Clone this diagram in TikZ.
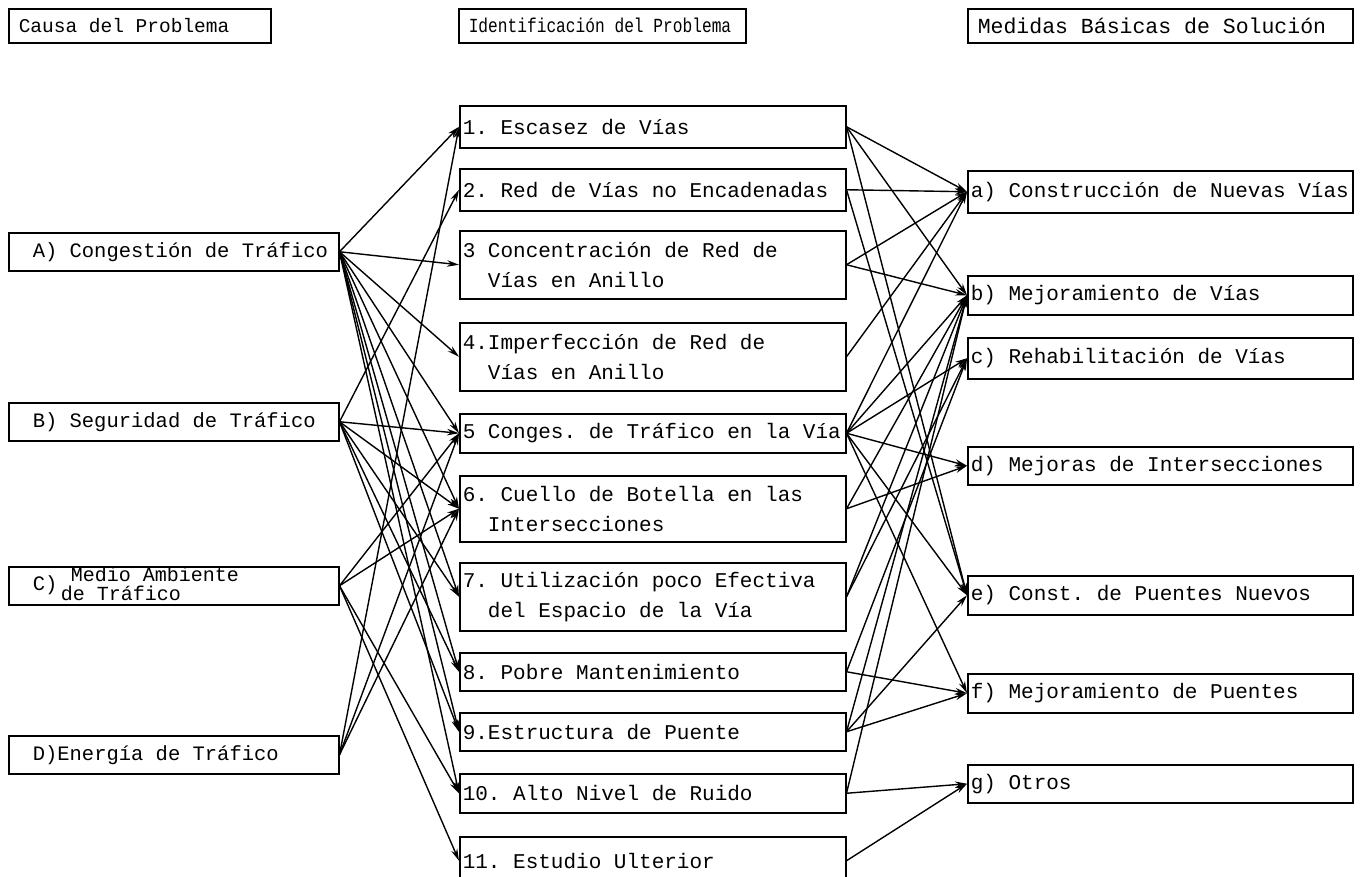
\documentclass[tikz,border=0pt]{standalone}
\usepackage{fontspec}
\setmonofont{Liberation Mono}
\usepackage{tikz}
\usetikzlibrary{arrows.meta}

% typewriter text with full-width spaces
\newcommand{\twfont}[2]{\ttfamily\fontsize{#1}{#2}\selectfont\spaceskip=0.6em\relax}

\tikzset{
  basebox/.style={draw, line width=1.5pt, anchor=north west, align=flush left,
    inner xsep=3pt, inner ysep=0pt, font=\twfont{21}{30}},
  causebox/.style={basebox, text width=324pt, minimum height=38pt,
    font=\twfont{20.5}{30}},
  probbox/.style={basebox, text width=380pt},
  solbox/.style={basebox, text width=379pt},
  headbox/.style={basebox, minimum height=34pt, inner xsep=10pt},
  arr/.style={-{Stealth[length=12pt,width=6.5pt]}, line width=1.4pt},
}

\begin{document}
\begin{tikzpicture}[x=1pt, y=-1pt]
  \useasboundingbox (0,0) rectangle (1362,876);

  % column titles
  \node[headbox, text width=242pt, font=\twfont{19.5}{24}] (hcausa) at (8,8) {Causa del Problema} ; %
  \node[headbox, text width=267pt, font=\twfont{20}{24}] (hident) at (458,8) {\scalebox{0.81}[1]{Identificación del Problema}} ; %
  \node[headbox, text width=365pt, font=\twfont{21.5}{24}] (hmed) at (967,8) {Medidas Básicas de Solución} ; %

  % causes
  \node[causebox] (cong) at (8,232) {\hspace*{21pt}A) Congestión de Tráfico} ; %
  \node[causebox] (seg) at (8,402) {\hspace*{21pt}B) Seguridad de Tráfico} ; %
  \node[causebox] (amb) at (8,566) {\hspace*{21pt}C)\,{\twfont{20}{15}\begin{tabular}[c]{@{}l@{}}\hspace*{10pt}Medio Ambiente\\de Tráfico\end{tabular}}} ; %
  \node[causebox] (ener) at (8,735) {\hspace*{21pt}D)Energía de Tráfico} ; %

  % problems
  \node[probbox, minimum height=42pt] (esc) at (459,105) {1. Escasez de Vías} ; %
  \node[probbox, minimum height=42pt] (red) at (459,168) {2. Red de Vías no Encadenadas} ; %
  \node[probbox, minimum height=68pt] (conc) at (459,230) {3 Concentración de Red de\\\phantom{3 }Vías en Anillo} ; %
  \node[probbox, minimum height=68pt] (imp) at (459,322) {4.Imperfección de Red de\\\phantom{4.}Vías en Anillo} ; %
  \node[probbox, minimum height=39pt] (cvia) at (459,413) {5 Conges. de Tráfico en la Vía} ; %
  \node[probbox, minimum height=66pt] (cuello) at (459,475) {6. Cuello de Botella en las\\\phantom{6.}Intersecciones} ; %
  \node[probbox, minimum height=68pt] (util) at (459,562) {7. Utilización poco Efectiva\\\phantom{7.}del Espacio de la Vía} ; %
  \node[probbox, minimum height=38pt] (mant) at (459,652) {8. Pobre Mantenimiento} ; %
  \node[probbox, minimum height=38pt] (puente) at (459,712) {9.Estructura de Puente} ; %
  \node[probbox, minimum height=39pt] (ruido) at (459,773) {10. Alto Nivel de Ruido} ; %
  \node[probbox, minimum height=48pt] (estudio) at (459,836) {11. Estudio Ulterior} ; %

  % measures
  \node[solbox, minimum height=42pt] (nuevas) at (967,170) {a) Construcción de Nuevas Vías} ; %
  \node[solbox, minimum height=39pt] (mejvias) at (967,275) {b) Mejoramiento de Vías} ; %
  \node[solbox, minimum height=41pt] (rehab) at (967,337) {c) Rehabilitación de Vías} ; %
  \node[solbox, minimum height=38pt] (inters) at (967,446) {d) Mejoras de Intersecciones} ; %
  \node[solbox, minimum height=39pt] (puentesn) at (967,575) {e) Const. de Puentes Nuevos} ; %
  \node[solbox, minimum height=39pt] (mejpuentes) at (967,673) {f) Mejoramiento de Puentes} ; %
  \node[solbox, minimum height=38pt] (otros) at (967,764) {g) Otros} ; %

  % causes -> problems
  \draw[arr] (cong.east) -- (esc.west);
  \draw[arr] (cong.east) -- (conc.west);
  \draw[arr] (cong.east) -- (imp.west);
  \draw[arr] (cong.east) -- (cvia.west);
  \draw[arr] (cong.east) -- (cuello.west);
  \draw[arr] (cong.east) -- (util.west);
  \draw[arr] (cong.east) -- (mant.west);
  \draw[arr] (cong.east) -- (puente.west);
  \draw[arr] (cong.east) -- (ruido.west);

  \draw[arr] (seg.east) -- (red.west);
  \draw[arr] (seg.east) -- (cvia.west);
  \draw[arr] (seg.east) -- (cuello.west);
  \draw[arr] (seg.east) -- (util.west);
  \draw[arr] (seg.east) -- (mant.west);
  \draw[arr] (seg.east) -- (puente.west);

  \draw[arr] (amb.east) -- (cvia.west);
  \draw[arr] (amb.east) -- (cuello.west);
  \draw[arr] (amb.east) -- (ruido.west);
  \draw[arr] (amb.east) -- (estudio.west);

  \draw[arr] (ener.east) -- (esc.west);
  \draw[arr] (ener.east) -- (cvia.west);
  \draw[arr] (ener.east) -- (cuello.west);

  % problems -> measures
  \draw[arr] (esc.east) -- (nuevas.west);
  \draw[arr] (esc.east) -- (mejvias.west);
  \draw[arr] (esc.east) -- (puentesn.west);
  \draw[arr] (red.east) -- (nuevas.west);
  \draw[arr] (red.east) -- (puentesn.west);
  \draw[arr] (conc.east) -- (nuevas.west);
  \draw[arr] (conc.east) -- (mejvias.west);
  \draw[arr] (imp.east) -- (nuevas.west);
  \draw[arr] (cvia.east) -- (nuevas.west);
  \draw[arr] (cvia.east) -- (mejvias.west);
  \draw[arr] (cvia.east) -- (rehab.west);
  \draw[arr] (cvia.east) -- (inters.west);
  \draw[arr] (cvia.east) -- (puentesn.west);
  \draw[arr] (cvia.east) -- (mejpuentes.west);
  \draw[arr] (cuello.east) -- (mejvias.west);
  \draw[arr] (cuello.east) -- (inters.west);
  \draw[arr] (util.east) -- (mejvias.west);
  \draw[arr] (util.east) -- (rehab.west);
  \draw[arr] (mant.east) -- (rehab.west);
  \draw[arr] (mant.east) -- (mejpuentes.west);
  \draw[arr] (puente.east) -- (mejvias.west);
  \draw[arr] (puente.east) -- (puentesn.west);
  \draw[arr] (puente.east) -- (mejpuentes.west);
  \draw[arr] (ruido.east) -- (mejvias.west);
  \draw[arr] (ruido.east) -- (otros.west);
  \draw[arr] (estudio.east) -- (otros.west);
\end{tikzpicture}
\end{document}
